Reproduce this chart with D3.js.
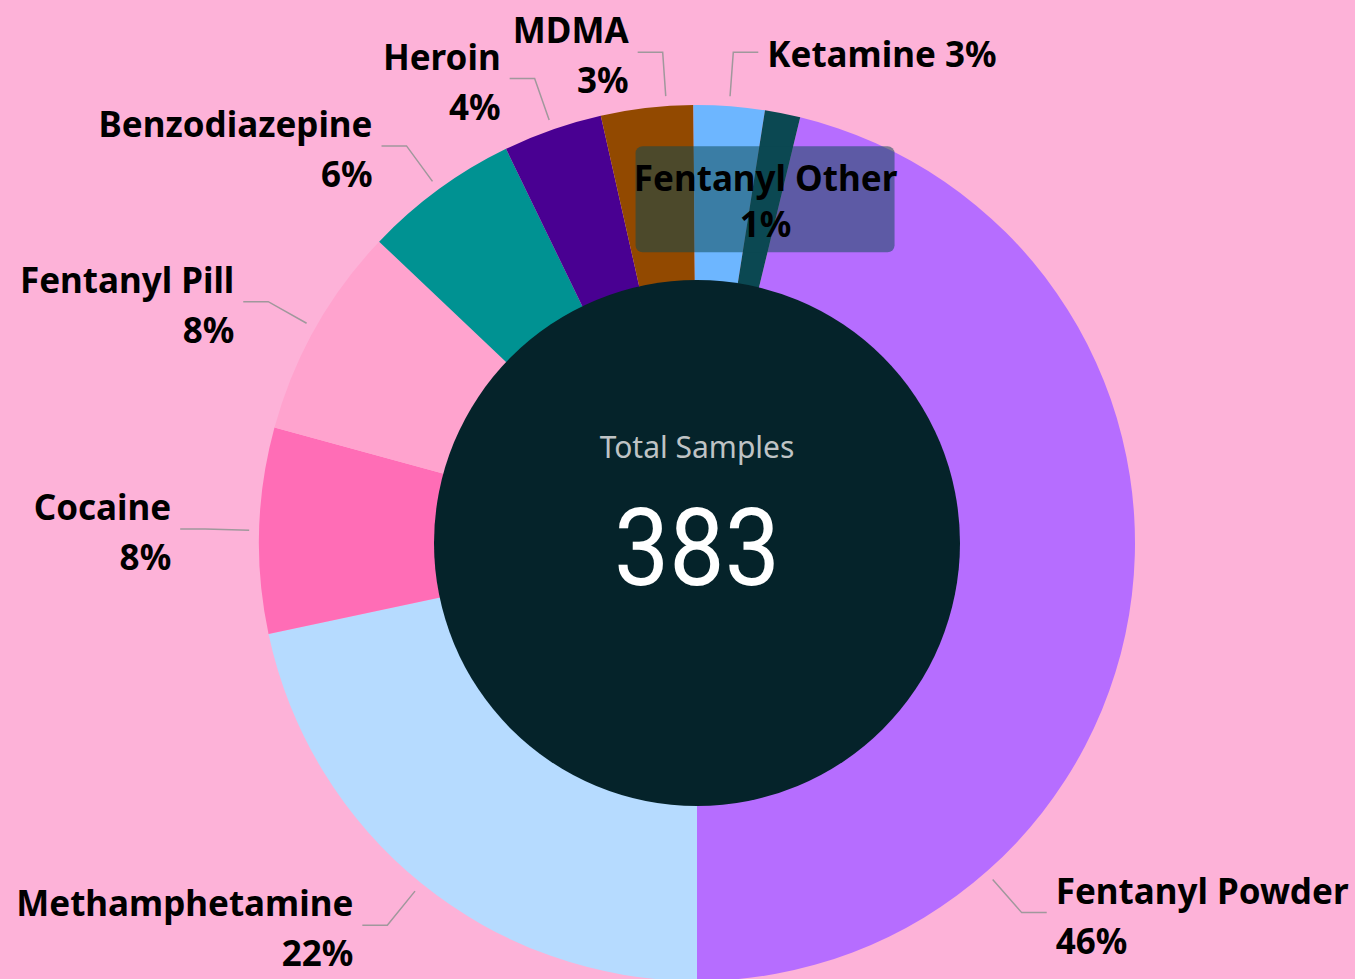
<!DOCTYPE html>
<html>
<head>
<meta charset="utf-8">
<script src="https://cdn.jsdelivr.net/npm/d3@7"></script>
<style>
  html, body { margin: 0; padding: 0; background: #fdb2d8; }
  svg { display: block; }
  .lbl { font-family: "Noto Sans", sans-serif; font-weight: 700; font-size: 35px; fill: #000; }
</style>
</head>
<body>
<div id="chart"></div>
<script>
// data
const categories = ["Fentanyl Powder", "Methamphetamine", "Cocaine", "Fentanyl Pill",
  "Benzodiazepine", "Heroin", "MDMA", "Ketamine", "Fentanyl Other"];
const counts = [177, 83, 29, 30, 22, 14, 13, 10, 5];
const colors = ["#b66dff", "#b6dbff", "#ff6db6", "#ffa3ce", "#009292",
  "#490092", "#924900", "#6db6ff", "#0b4852"];
const centerTitle = "Total Samples";

// label layout tweaks (angles in degrees, clockwise from 12 o'clock)
const labelAngle = [138.7, null, null, null, null, null, 356, null, null];
const labelOneLine = [false, false, false, false, false, false, false, true, false];
const labelInside = [false, false, false, false, false, false, false, false, true];

const width = 1355, height = 979;
const cx = 697, cy = 543;
const outerR = 438, innerR = 263;

const total = d3.sum(counts);
const tau = Math.PI * 2;
// first slice ends at 6 o'clock
const offset = Math.PI - tau * counts[0] / total;

const svg = d3.select("#chart").append("svg")
  .attr("width", width)
  .attr("height", height);

svg.append("rect")
  .attr("width", width).attr("height", height)
  .attr("fill", "#fdb2d8");

const pie = d3.pie().sort(null).value(d => d)
  .startAngle(offset).endAngle(offset + tau);
const arcs = pie(counts);

const arc = d3.arc().innerRadius(innerR - 10).outerRadius(outerR);
const centroidArc = d3.arc().innerRadius(innerR).outerRadius(outerR);

const g = svg.append("g").attr("transform", `translate(${cx},${cy})`);

g.selectAll("path.slice")
  .data(arcs)
  .enter()
  .append("path")
  .attr("class", "slice")
  .attr("d", arc)
  .attr("fill", (d, i) => colors[i]);

// center hole
g.append("circle")
  .attr("r", innerR)
  .attr("fill", "#05232a");

g.append("text")
  .attr("x", 0).attr("y", -85)
  .attr("text-anchor", "middle")
  .style("font-family", "'Noto Sans', sans-serif")
  .style("font-size", "30px")
  .style("fill", "#bfc3c5")
  .text(centerTitle);

g.append("text")
  .attr("x", 0).attr("y", 42)
  .attr("text-anchor", "middle")
  .attr("textLength", 166)
  .attr("lengthAdjust", "spacingAndGlyphs")
  .style("font-family", "Roboto, sans-serif")
  .style("font-size", "108px")
  .style("fill", "#ffffff")
  .text(total);

const pct = v => Math.round(v / total * 100) + "%";
const polar = (a, r) => [Math.sin(a) * r, -Math.cos(a) * r];

const labels = g.append("g").attr("id", "labels");

arcs.forEach((d, i) => {
  if (labelInside[i]) {
    const [x, y] = centroidArc.centroid(d);
    labels.append("rect")
      .attr("x", x - 130).attr("y", y - 53)
      .attr("width", 259).attr("height", 106)
      .attr("rx", 7)
      .attr("fill", colors[i])
      .attr("fill-opacity", 0.52);
    const t = labels.append("text").attr("class", "lbl").attr("text-anchor", "middle");
    t.append("tspan").attr("x", x).attr("y", y - 8).text(categories[i]);
    t.append("tspan").attr("x", x).attr("y", y + 38).text(pct(counts[i]));
    return;
  }
  const a = labelAngle[i] != null ? labelAngle[i] * Math.PI / 180 : (d.startAngle + d.endAngle) / 2;
  const p0 = polar(a, outerR + 10);
  const p1 = polar(a, outerR + 54);
  const left = p1[0] < 0;
  const p2 = [p1[0] + (left ? -25 : 25), p1[1]];

  labels.append("path")
    .attr("d", d3.line()([p0, p1, p2]))
    .attr("fill", "none")
    .attr("stroke", "#a0989c")
    .attr("stroke-width", 1.5);

  const tx = p2[0] + (left ? -9 : 9);
  const t = labels.append("text")
    .attr("class", "lbl")
    .attr("text-anchor", left ? "end" : "start");
  if (labelOneLine[i]) {
    t.append("tspan").attr("x", tx).attr("y", p2[1] + 15)
      .text(categories[i] + " " + pct(counts[i]));
  } else {
    t.append("tspan").attr("x", tx).attr("y", p2[1] - 9).text(categories[i]);
    t.append("tspan").attr("x", tx).attr("y", p2[1] + 41).text(pct(counts[i]));
  }
});
</script>
</body>
</html>
